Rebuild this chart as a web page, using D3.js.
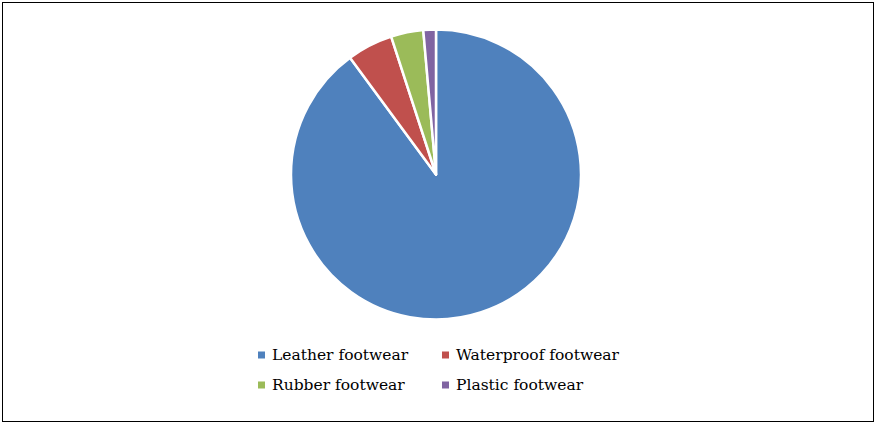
<!DOCTYPE html>
<html>
<head>
<meta charset="utf-8">
<script src="https://cdn.jsdelivr.net/npm/d3@7"></script>
<style>
  html, body { margin: 0; padding: 0; background: #fff; }
  svg { display: block; }
</style>
</head>
<body>
<div id="chart"></div>
<script>
const categories = ['Leather footwear', 'Waterproof footwear', 'Rubber footwear', 'Plastic footwear'];
const values = [89.9, 5.1, 3.6, 1.4];
const colors = ['#4f81bd', '#c0504d', '#9bbb59', '#8064a2'];

const width = 876, height = 425;

const svg = d3.select('#chart').append('svg')
  .attr('width', width)
  .attr('height', height);

svg.append('rect')
  .attr('x', 2.5).attr('y', 2.5)
  .attr('width', 871).attr('height', 419)
  .attr('fill', '#fff')
  .attr('stroke', '#000')
  .attr('stroke-width', 1);

const cx = 436, cy = 174.5, r = 145;

const pie = d3.pie().sort(null).value(d => d.value);
const arc = d3.arc().innerRadius(0).outerRadius(r);

const data = categories.map((c, i) => ({ name: c, value: values[i], color: colors[i] }));

svg.append('g')
  .attr('transform', `translate(${cx},${cy})`)
  .selectAll('path')
  .data(pie(data))
  .join('path')
    .attr('d', arc)
    .attr('fill', d => d.data.color)
    .attr('stroke', '#fff')
    .attr('stroke-width', 2.5)
    .attr('stroke-linejoin', 'round');

// legend, two columns
const legendX = d3.scaleOrdinal().domain([0, 1]).range([258, 442]);
const legendY = d3.scaleOrdinal().domain([0, 1]).range([355, 385]);

const legend = svg.append('g')
  .style('font', '15.5px "DejaVu Serif", "Liberation Serif", serif')
  .selectAll('g')
  .data(data)
  .join('g')
    .attr('transform', (d, i) => `translate(${legendX(i % 2)},${legendY(Math.floor(i / 2))})`);

legend.append('rect')
  .attr('x', 0).attr('y', -3.5)
  .attr('width', 7).attr('height', 7)
  .attr('fill', d => d.color);

legend.append('text')
  .attr('x', 14)
  .attr('dy', '0.35em')
  .attr('fill', '#000')
  .text(d => d.name);
</script>
</body>
</html>
